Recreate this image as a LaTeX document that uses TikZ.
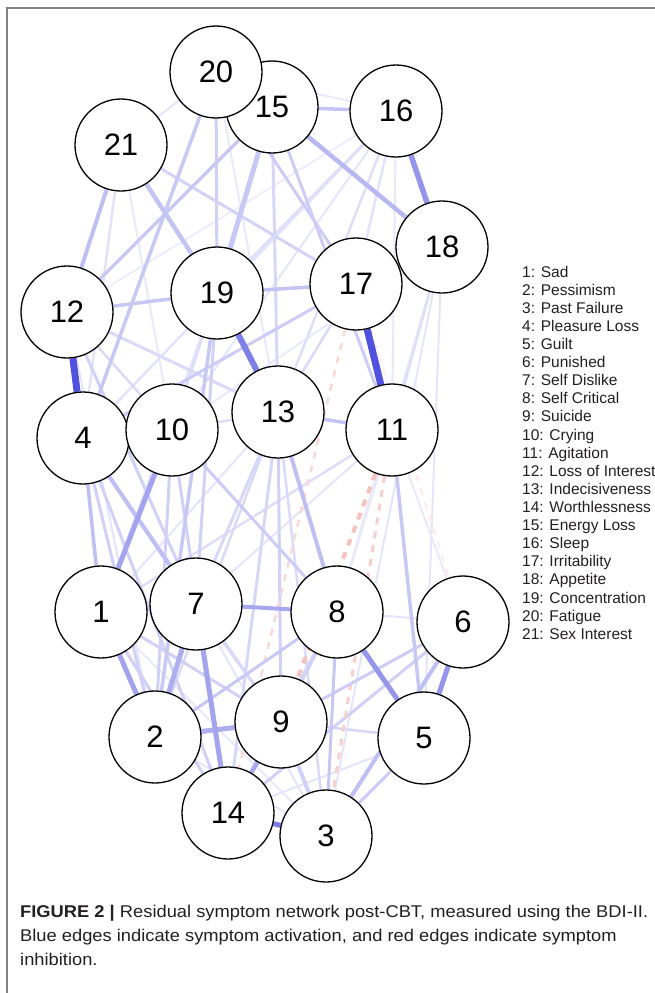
\documentclass[tikz,border=0pt]{standalone}
\usepackage{fontspec}
\setmainfont{Liberation Sans}
\usetikzlibrary{backgrounds}
\definecolor{eblue}{RGB}{72,72,222}
\definecolor{ered}{RGB}{232,120,110}
\definecolor{framegray}{RGB}{128,128,128}
\definecolor{captxt}{RGB}{35,31,32}
\newlength\capw
\newcommand\capone{\textbf{FIGURE 2 |} Residual symptom network post-CBT, measured using the BDI-II.}
\newcommand\captwo{Blue edges indicate symptom activation, and red edges indicate symptom}
\newcommand\capthree{inhibition.}
\newcommand\capfont{\fontsize{17}{24}\selectfont}
\tikzset{
  sym/.style={circle, draw=black, line width=1.3pt, fill=white, minimum size=92pt, inner sep=0pt, font=\fontsize{31}{33}\selectfont},
  eb/.style 2 args={line width=#1pt, draw=eblue!#2!white},
  er/.style 2 args={line width=#1pt, draw=ered!#2!white, dash pattern=on 7pt off 7pt},
  legtxt/.style={anchor=base west, inner sep=0pt, font=\fontsize{15.5}{18}\selectfont, text=captxt},
  captext/.style={anchor=base west, inner sep=0pt, text=captxt}
}
\begin{document}
\settowidth\capw{\capfont\capone}
\pgfmathsetmacro\capsx{628/\capw}
\begin{tikzpicture}[x=1pt,y=-1pt]
\useasboundingbox (0,0) rectangle (655,993);
\draw[framegray, line width=1.5pt] (7,993) -- (7,8) -- (655,8);
% nodes
\node[sym] (n1) at (101,612) {1};
\node[sym] (n2) at (155,737) {2};
\node[sym] (n3) at (326,836) {3};
\node[sym] (n4) at (83,438) {4};
\node[sym] (n5) at (424,738) {5};
\node[sym] (n6) at (463,622) {6};
\node[sym] (n7) at (196,604) {7};
\node[sym] (n8) at (337,612) {8};
\node[sym] (n9) at (281,722) {9};
\node[sym] (n10) at (172,430) {10};
\node[sym] (n11) at (392,430) {11};
\node[sym] (n12) at (67,312) {12};
\node[sym] (n13) at (278,412) {13};
\node[sym] (n14) at (228,813) {14};
\node[sym] (n15) at (272,107) {15};
\node[sym] (n16) at (396,111) {16};
\node[sym] (n17) at (356,284) {17};
\node[sym] (n18) at (442,247) {18};
\node[sym] (n19) at (217,293) {19};
\node[sym] (n20) at (216,72) {20};
\node[sym] (n21) at (121,145) {21};
\begin{pgfonlayer}{background}
% faint
\draw[eb={2}{12}] (n20) -- (n16);
\draw[eb={2}{10}] (n16) -- (n12);
\draw[eb={2}{14}] (n16) -- (n10);
\draw[eb={2}{12}] (n16) -- (n11);
\draw[eb={2}{12}] (n18) -- (n10);
\draw[eb={2}{12}] (n18) -- (n8);
\draw[eb={2}{14}] (n18) -- (n3);
\draw[eb={2}{14}] (n18) -- (n5);
\draw[eb={2}{12}] (n21) -- (n10);
\draw[eb={2}{12}] (n20) -- (n13);
\draw[eb={2}{12}] (n15) -- (n10);
\draw[eb={2}{15}] (n21) -- (n20);
\draw[eb={2}{12}] (n11) -- (n6);
\draw[eb={2}{12}] (n11) -- (n8);
\draw[eb={2}{15}] (n11) -- (n7);
\draw[eb={2}{15}] (n8) -- (n6);
\draw[eb={2}{15}] (n19) -- (n1);
\draw[eb={2}{15}] (n13) -- (n1);
\draw[eb={2}{15}] (n12) -- (n2);
\draw[eb={2}{15}] (n4) -- (n9);
\draw[eb={2}{15}] (n2) -- (n3);
\draw[eb={2}{15}] (n14) -- (n5);
\draw[eb={2}{15}] (n7) -- (n3);
\draw[eb={2}{12}] (n1) -- (n3);
\draw[eb={2.5}{16}] (n16) -- (n4);
% light
\draw[eb={2.5}{16}] (n21) -- (n4);
\draw[eb={2.5}{18}] (n16) -- (n19);
\draw[eb={2.5}{18}] (n16) -- (n13);
\draw[eb={2.5}{16}] (n16) -- (n17);
\draw[eb={2.5}{18}] (n11) -- (n18);
\draw[eb={2.5}{18}] (n11) -- (n1);
\draw[eb={2.5}{18}] (n19) -- (n10);
\draw[eb={2.5}{20}] (n12) -- (n10);
\draw[eb={3}{20}] (n12) -- (n13);
\draw[eb={2.5}{20}] (n13) -- (n17);
\draw[eb={2.5}{20}] (n13) -- (n10);
\draw[eb={2.5}{20}] (n13) -- (n2);
\draw[eb={2.5}{20}] (n13) -- (n3);
\draw[eb={3}{22}] (n13) -- (n14);
\draw[eb={3}{25}] (n13) -- (n9);
\draw[eb={3}{22}] (n13) -- (n7);
\draw[eb={3}{22}] (n15) -- (n13);
\draw[eb={3}{25}] (n20) -- (n19);
\draw[eb={3}{24}] (n21) -- (n17);
\draw[eb={3}{28}] (n15) -- (n11);
\draw[eb={3}{28}] (n20) -- (n17);
\draw[eb={2.5}{22}] (n5) -- (n9);
\draw[eb={3}{22}] (n7) -- (n9);
\draw[eb={3}{22}] (n8) -- (n14);
\draw[eb={3}{25}] (n8) -- (n9);
\draw[eb={3}{25}] (n1) -- (n9);
\draw[eb={3}{25}] (n1) -- (n14);
\draw[eb={3}{25}] (n10) -- (n2);
\draw[eb={3}{25}] (n10) -- (n14);
\draw[eb={3}{25}] (n4) -- (n2);
\draw[eb={3}{25}] (n4) -- (n14);
\draw[eb={3}{25}] (n12) -- (n7);
\draw[eb={3}{25}] (n6) -- (n14);
\draw[eb={3}{25}] (n19) -- (n7);
\draw[eb={3}{28}] (n5) -- (n3);
\draw[eb={4}{25}] (n9) -- (n3);
% inhibition
\draw[er={2}{15}] (n17) -- (n6);
\draw[er={2.5}{28}] (n17) -- (n14);
\draw[er={3}{35}] (n11) -- (n3);
\draw[er={4}{45}] (n11) -- (n9);
% medium
\draw[eb={3.5}{32}] (n15) -- (n16);
\draw[eb={4}{35}] (n21) -- (n12);
\draw[eb={3.5}{30}] (n20) -- (n4);
\draw[eb={3.5}{30}] (n15) -- (n12);
\draw[eb={3.5}{30}] (n12) -- (n19);
\draw[eb={3.5}{32}] (n19) -- (n17);
\draw[eb={3}{28}] (n17) -- (n4);
\draw[eb={3.5}{32}] (n13) -- (n11);
\draw[eb={4}{35}] (n13) -- (n8);
\draw[eb={3.5}{30}] (n11) -- (n5);
\draw[eb={3.5}{35}] (n4) -- (n1);
\draw[eb={4}{35}] (n4) -- (n7);
\draw[eb={3}{28}] (n10) -- (n8);
\draw[eb={3.5}{30}] (n19) -- (n2);
\draw[eb={3}{30}] (n8) -- (n2);
\draw[eb={3}{28}] (n6) -- (n9);
\draw[eb={3}{30}] (n8) -- (n3);
\draw[eb={4}{35}] (n6) -- (n3);
\draw[eb={5}{30}] (n15) -- (n19);
\draw[eb={4.5}{32}] (n21) -- (n19);
\draw[eb={4.5}{38}] (n15) -- (n18);
% strong
\draw[eb={4}{48}] (n7) -- (n8);
\draw[eb={4}{48}] (n9) -- (n14);
\draw[eb={5}{45}] (n2) -- (n9);
\draw[eb={5}{45}] (n7) -- (n2);
\draw[eb={5}{50}] (n1) -- (n2);
\draw[eb={5}{50}] (n7) -- (n14);
\draw[eb={5}{50}] (n10) -- (n1);
\draw[eb={5}{58}] (n8) -- (n5);
\draw[eb={5}{58}] (n6) -- (n5);
\draw[eb={5}{72}] (n14) -- (n3);
\draw[eb={5.5}{58}] (n16) -- (n18);
\draw[eb={6}{70}] (n19) -- (n13);
\draw[eb={7}{95}] (n12) -- (n4);
\draw[eb={7}{95}] (n17) -- (n11);
\end{pgfonlayer}
% legend
\node[legtxt] (l1) at (522,277) {1: Sad};
\node[legtxt] (l2) at (522,295) {2: Pessimism};
\node[legtxt] (l3) at (522,313) {3: Past Failure};
\node[legtxt] (l4) at (522,331) {4: Pleasure Loss};
\node[legtxt] (l5) at (522,349) {5: Guilt};
\node[legtxt] (l6) at (522,367) {6: Punished};
\node[legtxt] (l7) at (522,385) {7: Self Dislike};
\node[legtxt] (l8) at (522,403) {8: Self Critical};
\node[legtxt] (l9) at (522,421) {9: Suicide};
\node[legtxt] (l10) at (522,440) {10: Crying};
\node[legtxt] (l11) at (522,458) {11: Agitation};
\node[legtxt] (l12) at (522,476) {12: Loss of Interest};
\node[legtxt] (l13) at (522,494) {13: Indecisiveness};
\node[legtxt] (l14) at (522,512) {14: Worthlessness};
\node[legtxt] (l15) at (522,530) {15: Energy Loss};
\node[legtxt] (l16) at (522,548) {16: Sleep};
\node[legtxt] (l17) at (522,566) {17: Irritability};
\node[legtxt] (l18) at (522,584) {18: Appetite};
\node[legtxt] (l19) at (522,603) {19: Concentration};
\node[legtxt] (l20) at (522,621) {20: Fatigue};
\node[legtxt] (l21) at (522,639) {21: Sex Interest};
% caption
\node[captext] (cap1) at (20,917) {\scalebox{\capsx}[1]{\capfont\capone}};
\node[captext] (cap2) at (20,941) {\scalebox{\capsx}[1]{\capfont\captwo}};
\node[captext] (cap3) at (20,965) {\scalebox{\capsx}[1]{\capfont\capthree}};
\end{tikzpicture}
\end{document}
